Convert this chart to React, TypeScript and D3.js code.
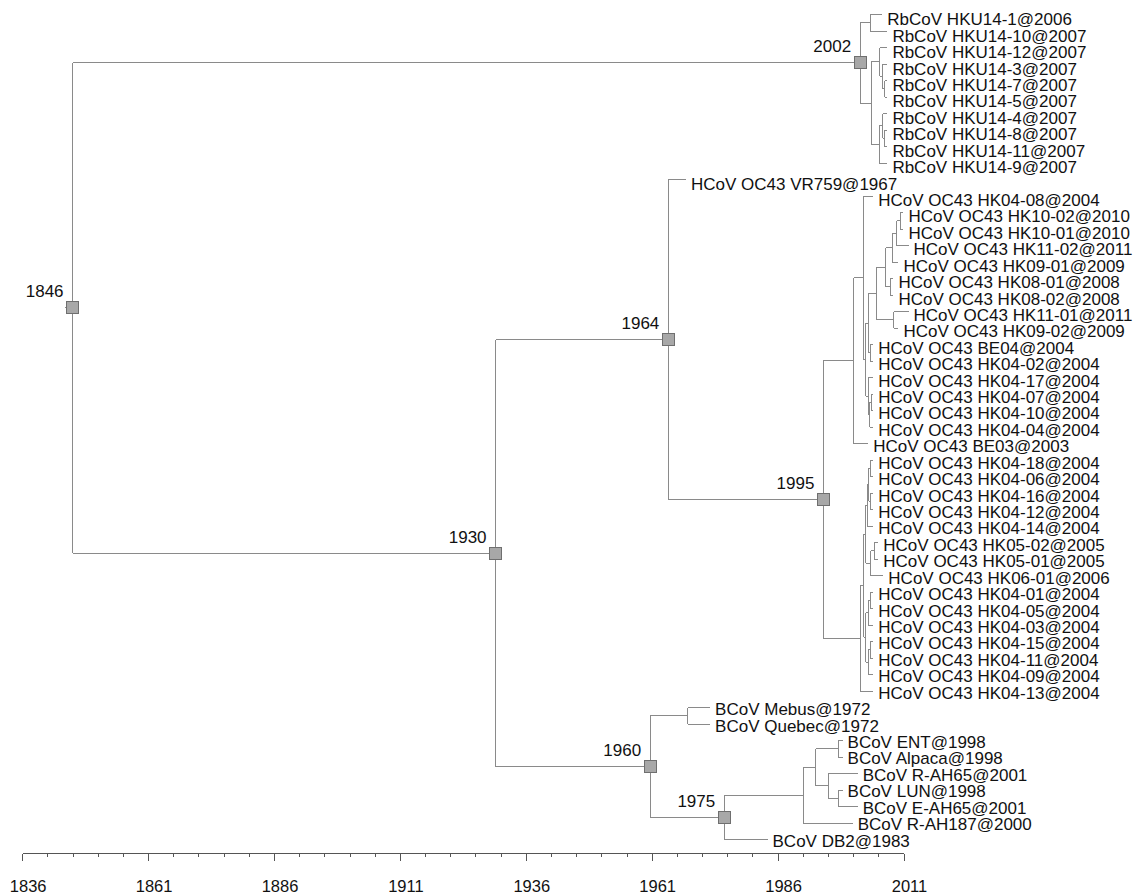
import { useEffect, useRef } from "react"
import * as d3 from "d3"

// leaves, top to bottom
const leafNames = [
  "RbCoV HKU14-1@2006", "RbCoV HKU14-10@2007", "RbCoV HKU14-12@2007", "RbCoV HKU14-3@2007",
  "RbCoV HKU14-7@2007", "RbCoV HKU14-5@2007", "RbCoV HKU14-4@2007", "RbCoV HKU14-8@2007",
  "RbCoV HKU14-11@2007", "RbCoV HKU14-9@2007",
  "HCoV OC43 VR759@1967", "HCoV OC43 HK04-08@2004", "HCoV OC43 HK10-02@2010", "HCoV OC43 HK10-01@2010",
  "HCoV OC43 HK11-02@2011", "HCoV OC43 HK09-01@2009", "HCoV OC43 HK08-01@2008", "HCoV OC43 HK08-02@2008",
  "HCoV OC43 HK11-01@2011", "HCoV OC43 HK09-02@2009", "HCoV OC43 BE04@2004", "HCoV OC43 HK04-02@2004",
  "HCoV OC43 HK04-17@2004", "HCoV OC43 HK04-07@2004", "HCoV OC43 HK04-10@2004", "HCoV OC43 HK04-04@2004",
  "HCoV OC43 BE03@2003", "HCoV OC43 HK04-18@2004", "HCoV OC43 HK04-06@2004", "HCoV OC43 HK04-16@2004",
  "HCoV OC43 HK04-12@2004", "HCoV OC43 HK04-14@2004", "HCoV OC43 HK05-02@2005", "HCoV OC43 HK05-01@2005",
  "HCoV OC43 HK06-01@2006", "HCoV OC43 HK04-01@2004", "HCoV OC43 HK04-05@2004", "HCoV OC43 HK04-03@2004",
  "HCoV OC43 HK04-15@2004", "HCoV OC43 HK04-11@2004", "HCoV OC43 HK04-09@2004", "HCoV OC43 HK04-13@2004",
  "BCoV Mebus@1972", "BCoV Quebec@1972", "BCoV ENT@1998", "BCoV Alpaca@1998", "BCoV R-AH65@2001",
  "BCoV LUN@1998", "BCoV E-AH65@2001", "BCoV R-AH187@2000", "BCoV DB2@1983",
]

// tip dates (decimal years, read from the tip positions)
const leafDates = [
  2006.7, 2007.7, 2007.7, 2007.7, 2007.7, 2007.7, 2007.7, 2007.7, 2007.7, 2007.7,
  1967.7, 2004.9, 2010.9, 2010.9, 2011.9, 2009.9, 2008.9, 2008.9, 2011.9, 2009.9,
  2004.9, 2004.9, 2004.9, 2004.9, 2004.9, 2004.9, 2003.9, 2004.9, 2004.9, 2004.9,
  2004.9, 2004.9, 2005.9, 2005.9, 2006.9, 2004.9, 2004.9, 2004.9, 2004.9, 2004.9,
  2004.9, 2004.9, 1972.5, 1972.5, 1998.8, 1998.8, 2001.8, 1998.8, 2001.8, 2000.8,
  1983.9,
]

const leafParents = [
  "a", "a", "b1", "b1a", "b1b", "b1b", "b2a", "b2b", "b2b", "b2",
  "n1964", "c1a", "hk10", "hk10", "hk1011", "g1", "hk08", "hk08", "c1h", "c1h",
  "c1f", "c1f", "c1d", "c1d2", "c1d2", "c1d1", "c1", "c2p1", "c2p1", "c2p2",
  "c2p2", "c2d", "hk05", "hk05", "c2e", "c2q1", "c2q1", "c2q", "c2r1", "c2r1",
  "c2r", "c2", "bpair", "bpair", "g2ea", "g2ea", "g2b", "g2le", "g2le", "g2",
  "n1975",
]

// internal nodes
const nodeIds = [
  "root", "n2002", "a", "b", "b1", "b1a", "b1b", "b2", "b2a", "b2b",
  "n1930", "n1964", "n1995", "c1", "c1a", "c1b", "c1c", "c1e", "c1g", "g1",
  "hk1011", "hk10", "hk08", "c1h", "c1f", "c1d", "c1d1", "c1d2", "c2", "c2a",
  "c2b", "c2d", "c2p", "c2p1", "c2p2", "c2e", "hk05", "c2c", "c2q", "c2q1",
  "c2r", "c2r1", "n1960", "bpair", "n1975", "g2", "g2a", "g2ea", "g2b", "g2le",
]
const nodeParents = [
  null, "root", "n2002", "n2002", "b", "b1", "b1a", "b", "b2", "b2a",
  "root", "n1930", "n1964", "n1995", "c1", "c1a", "c1b", "c1c", "c1e", "c1g",
  "g1", "hk1011", "c1g", "c1e", "c1c", "c1b", "c1d", "c1d1", "n1995", "c2",
  "c2a", "c2b", "c2d", "c2p", "c2p", "c2b", "c2e", "c2a", "c2c", "c2q",
  "c2c", "c2r", "n1930", "n1960", "n1960", "n1975", "g2", "g2a", "g2a", "g2b",
]
const nodeDates = [
  1845.9, 2002.3, 2004.3, 2004.5, 2006.2, 2006.8, 2007.2, 2006.1, 2006.8, 2007.2,
  1929.9, 1964.2, 1995.0, 2001.0, 2003.0, 2003.4, 2003.9, 2005.5, 2007.4, 2008.7,
  2009.6, 2010.3, 2008.3, 2009.0, 2004.3, 2003.9, 2004.2, 2004.5, 2002.3, 2003.0,
  2003.4, 2003.7, 2004.0, 2004.4, 2004.4, 2004.4, 2005.1, 2003.4, 2003.9, 2004.3,
  2003.9, 2004.3, 1960.6, 1968.1, 1975.3, 1991.0, 1993.5, 1997.9, 1996.0, 1997.9,
]

// annotated nodes (grey squares with their age)
const labelledNodes = ["root", "n2002", "n1930", "n1964", "n1995", "n1960", "n1975"]
const labelledYears = ["1846", "2002", "1930", "1964", "1995", "1960", "1975"]

const axisYears = [1836, 1861, 1886, 1911, 1936, 1961, 1986, 2011]
const minorStep = 5

const FONT = "'Liberation Sans', Arial, sans-serif"

type Row = { id: string; parent: string | null; date: number; leaf: number }

export default function App() {
  const svgRef = useRef<SVGSVGElement>(null)

  useEffect(() => {
    if (!svgRef.current) return
    const svg = d3.select(svgRef.current)
    svg.selectAll("*").remove()

    const x = d3.scaleLinear().domain([1836, 2011]).range([22.7, 904])
    const n = leafNames.length - 1
    const y = d3.scaleLinear().domain([0, n]).range([14.5, 839.5])
    const yText = d3.scaleLinear().domain([0, n]).range([25.3, 846.5])

    const rows: Row[] = [
      ...nodeIds.map((id, i) => ({ id, parent: nodeParents[i], date: nodeDates[i], leaf: -1 })),
      ...leafNames.map((_, i) => ({ id: "leaf" + i, parent: leafParents[i], date: leafDates[i], leaf: i })),
    ]
    const root = d3
      .stratify<Row>()
      .id((d) => d.id)
      .parentId((d) => d.parent)(rows)

    const px = new Map<string, number>()
    const py = new Map<string, number>()
    root.eachAfter((node) => {
      px.set(node.id!, x(node.data.date))
      if (node.children) {
        const ys = node.children.map((c) => py.get(c.id!)!)
        py.set(node.id!, (d3.min(ys)! + d3.max(ys)!) / 2)
      } else {
        py.set(node.id!, y(node.data.leaf))
      }
    })

    const tree = svg.append("g").attr("stroke", "#8a8a8a").attr("stroke-width", 1).attr("fill", "none")

    // horizontal branches
    root.descendants().forEach((node) => {
      const yy = py.get(node.id!)!
      const x1 = node.parent ? px.get(node.parent.id!)! : px.get(node.id!)! - 8
      tree
        .append("line")
        .attr("x1", x1)
        .attr("x2", px.get(node.id!)!)
        .attr("y1", yy)
        .attr("y2", yy)
    })

    // vertical connectors
    root.descendants().forEach((node) => {
      if (!node.children) return
      const ys = node.children.map((c) => py.get(c.id!)!)
      tree
        .append("line")
        .attr("x1", px.get(node.id!)!)
        .attr("x2", px.get(node.id!)!)
        .attr("y1", d3.min(ys)!)
        .attr("y2", d3.max(ys)!)
    })

    // tip labels
    svg
      .append("g")
      .selectAll("text")
      .data(root.leaves())
      .enter()
      .append("text")
      .attr("x", (d) => px.get(d.id!)! + 5)
      .attr("y", (d) => yText(d.data.leaf))
      .attr("font-family", FONT)
      .attr("font-size", 17)
      .attr("fill", "#111")
      .text((d) => leafNames[d.data.leaf])

    // node squares and ages
    const marks = svg.append("g")
    labelledNodes.forEach((id, i) => {
      const cx = px.get(id)!
      const cy = py.get(id)!
      marks
        .append("rect")
        .attr("x", cx - 6)
        .attr("y", cy - 6)
        .attr("width", 12)
        .attr("height", 12)
        .attr("fill", "#a8a8a8")
        .attr("stroke", "#6f6f6f")
        .attr("stroke-width", 1)
      marks
        .append("text")
        .attr("x", cx - 9)
        .attr("y", cy - 10.5)
        .attr("text-anchor", "end")
        .attr("font-family", FONT)
        .attr("font-size", 17)
        .attr("fill", "#111")
        .text(labelledYears[i])
    })

    // time axis
    const axisY = 853.5
    const axis = svg.append("g").attr("stroke", "#555").attr("stroke-width", 1)
    axis
      .append("line")
      .attr("x1", x(1836))
      .attr("x2", x(2011))
      .attr("y1", axisY)
      .attr("y2", axisY)
    d3.range(axisYears[0], axisYears[axisYears.length - 1] + 1, minorStep).forEach((yr) => {
      const major = axisYears.includes(yr)
      axis
        .append("line")
        .attr("x1", x(yr))
        .attr("x2", x(yr))
        .attr("y1", axisY)
        .attr("y2", axisY + (major ? 7 : 3.5))
    })
    svg
      .append("g")
      .selectAll("text")
      .data(axisYears)
      .enter()
      .append("text")
      .attr("x", (d) => x(d) + 5.5)
      .attr("y", 891.5)
      .attr("text-anchor", "middle")
      .attr("font-family", FONT)
      .attr("font-size", 16.5)
      .attr("fill", "#111")
      .text((d) => d)
  }, [])

  return (
    <div style={{ position: "absolute", left: 0, top: 0 }}>
      <svg ref={svgRef} width={1137} height={893} shape-rendering="crispEdges" />
    </div>
  )
}
